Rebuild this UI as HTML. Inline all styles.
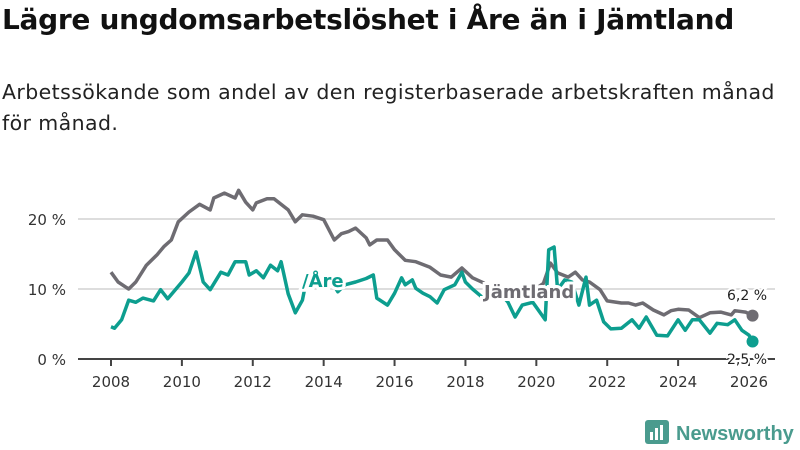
<!DOCTYPE html>
<html><head><meta charset="utf-8"><style>
body{margin:0;background:#fff;width:800px;height:450px;overflow:hidden;font-family:"DejaVu Sans","Liberation Sans",sans-serif;}
h1{position:absolute;left:2px;top:3px;margin:0;font-size:28px;font-weight:bold;color:#111;letter-spacing:-0.3px;white-space:nowrap}
p{position:absolute;left:2px;top:77px;margin:0;font-size:20.5px;letter-spacing:0.4px;line-height:31px;color:#222;width:795px;white-space:nowrap}
svg{position:absolute;left:0;top:0}
</style></head><body>
<h1>Lägre ungdomsarbetslöshet i Åre än i Jämtland</h1>
<p>Arbetssökande som andel av den registerbaserade arbetskraften månad<br>för månad.</p>
<svg id="chart" width="800" height="450"></svg>
<script>
const yTicks=[0,10,20];
const xTicks=[2008,2010,2012,2014,2016,2018,2020,2022,2024,2026];
const jamtT=[2008.0,2008.2,2008.5,2008.7,2009.0,2009.3,2009.5,2009.7,2009.9,2010.2,2010.5,2010.8,2010.9,2011.2,2011.5,2011.6,2011.8,2012.0,2012.1,2012.4,2012.6,2013.0,2013.2,2013.4,2013.7,2014.0,2014.3,2014.5,2014.7,2014.9,2015.2,2015.3,2015.5,2015.8,2016.0,2016.3,2016.6,2017.0,2017.3,2017.6,2017.9,2018.2,2018.5,2018.8,2019.0,2019.3,2019.7,2020.0,2020.2,2020.4,2020.6,2020.9,2021.1,2021.3,2021.5,2021.8,2022.0,2022.4,2022.6,2022.8,2023.0,2023.3,2023.6,2023.8,2024.0,2024.3,2024.6,2024.9,2025.2,2025.5,2025.6,2025.9,2026.1];
const jamtV=[12.4,11,10,11,13.4,14.9,16.1,17,19.6,21,22.1,21.3,23,23.7,23,24.1,22.4,21.3,22.3,22.9,22.9,21.3,19.6,20.6,20.4,19.9,17,17.9,18.2,18.7,17.3,16.3,17,17,15.6,14.1,13.9,13.1,12,11.7,13,11.6,10.9,9.9,9.6,9.9,9.9,10.1,10.8,13.7,12.3,11.7,12.4,11.3,11,9.9,8.3,8,8,7.7,8,7,6.3,6.9,7.1,7,5.9,6.6,6.7,6.3,6.9,6.7,6.2];
const areT=[2008.0,2008.1,2008.3,2008.5,2008.7,2008.9,2009.2,2009.4,2009.6,2010.0,2010.2,2010.4,2010.6,2010.8,2011.1,2011.3,2011.5,2011.8,2011.9,2012.1,2012.3,2012.5,2012.7,2012.8,2013.0,2013.2,2013.4,2013.5,2013.7,2013.9,2014.2,2014.4,2014.6,2014.9,2015.2,2015.4,2015.5,2015.8,2016.0,2016.2,2016.3,2016.5,2016.6,2016.8,2017.0,2017.2,2017.4,2017.7,2017.9,2018.0,2018.2,2018.5,2018.7,2018.9,2019.2,2019.4,2019.6,2019.9,2020.0,2020.25,2020.35,2020.5,2020.6,2020.8,2021.0,2021.2,2021.4,2021.5,2021.7,2021.9,2022.1,2022.4,2022.7,2022.9,2023.1,2023.4,2023.7,2024.0,2024.2,2024.4,2024.6,2024.9,2025.1,2025.4,2025.6,2025.8,2026.0,2026.1];
const areV=[4.6,4.4,5.6,8.4,8.1,8.7,8.3,9.9,8.6,11,12.3,15.3,11,9.9,12.4,12,13.9,13.9,12,12.6,11.6,13.4,12.6,13.9,9.3,6.6,8.4,10.9,11.1,11.7,11.3,9.6,10.6,11,11.5,12,8.7,7.7,9.4,11.6,10.6,11.3,10.1,9.4,8.9,8,9.9,10.6,12.4,11,10,8.7,9.3,9.9,8.1,6,7.7,8.1,7.4,5.6,15.6,16,9.9,11.3,11,7.7,11.7,7.7,8.4,5.3,4.3,4.4,5.6,4.4,6,3.4,3.3,5.6,4.1,5.6,5.6,3.7,5.1,4.9,5.6,4.1,3.4,2.5];
const NS="http://www.w3.org/2000/svg";
const svg=document.getElementById('chart');
const X=t=>111+(t-2008)*(749-111)/18;
const Y=v=>359-v*7;
function mk(tag,attrs,parent){const e=document.createElementNS(NS,tag);for(const k in attrs)e.setAttribute(k,attrs[k]);(parent||svg).appendChild(e);return e;}
yTicks.forEach(v=>{
  if(v>0){const g=mk('line',{x1:78,x2:775,y1:Y(v),y2:Y(v),stroke:'#ddd','stroke-width':2});
  
  }
  const t=mk('text',{x:66,y:Y(v)+6,'text-anchor':'end','font-size':15,fill:'#333'});t.textContent=v+' %';
  
  
});
const ax=mk('line',{x1:78,x2:775,y1:359,y2:359,stroke:'#444','stroke-width':2});


xTicks.forEach(v=>{
  mk('line',{x1:X(v),x2:X(v),y1:359,y2:366,stroke:'#444','stroke-width':2});
  const t=mk('text',{x:X(v),y:387,'text-anchor':'middle','font-size':15,fill:'#333'});t.textContent=v;
  
  
});
function line(T,V,col,name){
  const p=mk('path',{d:T.map((t,i)=>(i?'L':'M')+X(t).toFixed(1)+' '+Y(V[i]).toFixed(1)).join(' '),fill:'none',stroke:col,'stroke-width':3.5,'stroke-linejoin':'round'});
  
  
  const c=mk('circle',{cx:X(T[T.length-1]),cy:Y(V[V.length-1]),r:6,fill:col});
  
  
}
line(jamtT,jamtV,'#6e6c72','jamtland');
line(areT,areV,'#0d9e8f','are');
function lbl(x,y,txt,col,name,size,bold,anchor){
  const t=mk('text',{x:x,y:y,'font-size':size,'font-weight':bold?'bold':'normal',fill:col,stroke:'#fff','stroke-width':bold?6:4,'paint-order':'stroke','text-anchor':anchor||'start'});
  t.textContent=txt;
  
  
}
lbl(302,287,'/Åre','#0d9e8f','are-label',18,true);
lbl(484,298,'Jämtland','#6e6c72','jamtland-label',18,true);
lbl(747,300,'6,2 %','#222','jamtland-end-value',14,false,'middle');
lbl(747,364,'2,5 %','#222','are-end-value',14,false,'middle');
</script>
<svg width="800" height="450" style="pointer-events:none">
<rect x="645" y="420" width="24" height="24" rx="3" fill="#4a9b8e"/>
<rect x="650" y="432" width="3" height="8" fill="#fff"/><rect x="655" y="428" width="3" height="12" fill="#fff"/><rect x="660" y="425" width="3" height="15" fill="#fff"/>
<text x="676" y="440" font-size="20" font-weight="bold" fill="#4a9b8e" font-family="Liberation Sans, sans-serif">Newsworthy</text>
</svg>
</body></html>
